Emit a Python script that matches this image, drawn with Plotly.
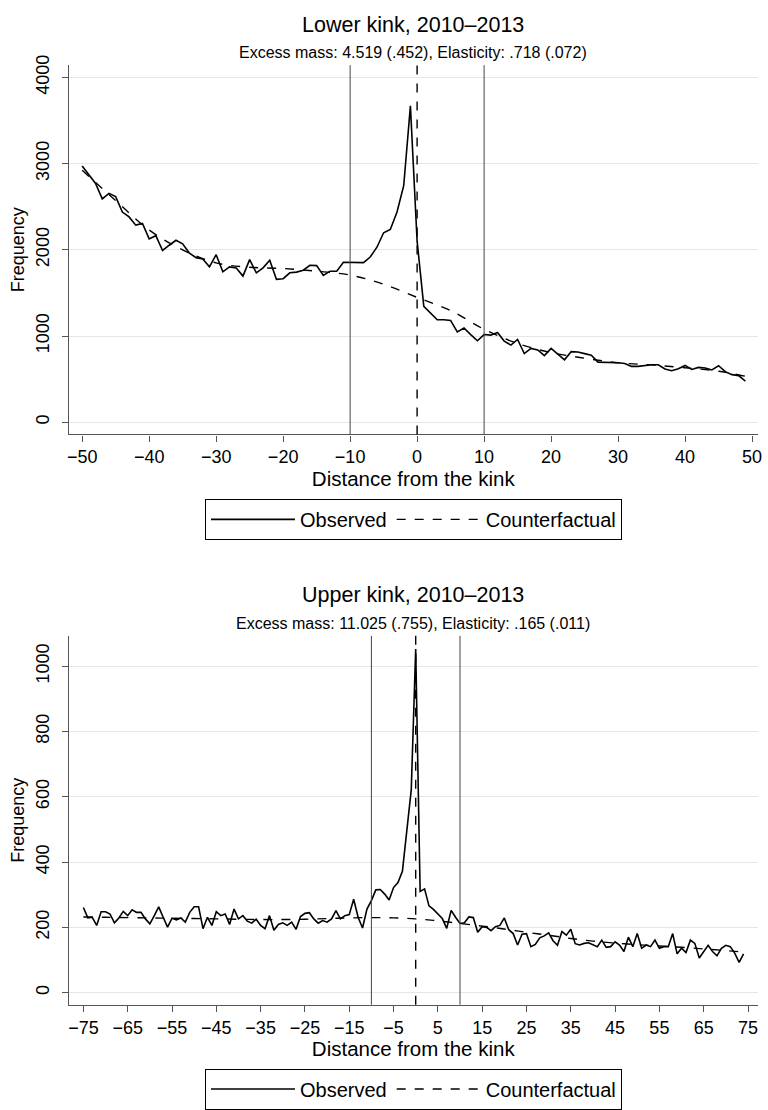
import plotly.graph_objects as go

# ---- Lower kink (2010-2013): bins -50..49 ----
lower_x = list(range(-50, 50))
lower_obs = [2971, 2876, 2770, 2590, 2655, 2617, 2438, 2381, 2286, 2305,
             2126, 2164, 1992, 2053, 2110, 2069, 1962, 1909, 1893, 1802,
             1943, 1745, 1802, 1790, 1695, 1886, 1733, 1790, 1878, 1657,
             1665, 1733, 1741, 1764, 1821, 1817, 1703, 1752, 1752, 1855,
             1855, 1848, 1851, 1916, 2030, 2198, 2236, 2438, 2743, 3669,
             2100, 1345, 1269, 1189, 1189, 1181, 1048, 1093, 1017, 945,
             1017, 1010, 1040, 941, 895, 960, 796, 857, 838, 773,
             857, 789, 724, 819, 815, 796, 777, 697, 697, 697,
             690, 682, 648, 648, 659, 667, 667, 617, 598, 621,
             659, 613, 636, 629, 606, 655, 587, 552, 541, 476]
lower_cf_x = [-50, -45, -40, -35, -30, -25, -20, -15, -10, -5, 0,
              5, 10, 15, 20, 25, 30, 35, 40, 45, 49]
lower_cf = [2922, 2571, 2229, 2000, 1848, 1798, 1783, 1752, 1707, 1600, 1448,
            1295, 1078, 914, 808, 743, 690, 665, 632, 592, 533]
lower_xticks = [-50, -40, -30, -20, -10, 0, 10, 20, 30, 40, 50]
lower_yticks = [0, 1000, 2000, 3000, 4000]

# ---- Upper kink (2010-2013): bins -75..74 ----
upper_x = list(range(-75, 75))
upper_obs = [261, 229, 231, 206, 248, 248, 241, 214, 229, 249,
             236, 254, 246, 246, 226, 211, 236, 263, 231, 201,
             228, 223, 229, 216, 246, 263, 263, 196, 231, 206,
             248, 236, 241, 209, 256, 226, 236, 219, 213, 225,
             206, 196, 236, 191, 209, 214, 206, 216, 194, 233,
             243, 245, 226, 213, 221, 216, 226, 251, 226, 236,
             239, 286, 231, 198, 256,
             282, 315, 316, 302, 284, 322, 337, 372, 490, 622,
             1053,
             310, 318, 266, 255, 242, 227, 197, 252, 231, 212,
             214, 232, 230, 185, 202, 200, 190, 202, 206, 229,
             193, 181, 146, 179, 181, 141, 148, 168, 174, 183,
             159, 145, 187, 176, 194, 150, 146, 151, 153, 146,
             141, 161, 139, 141, 156, 146, 126, 170, 141, 181,
             136, 146, 141, 161, 136, 141, 141, 181, 119, 136,
             123, 161, 151, 106, 126, 145, 126, 113, 136, 145,
             141, 121, 93, 119]
upper_cf_x = [-75, -70, -65, -60, -55, -50, -45, -40, -35, -30, -25, -20,
              -15, -10, -5, 0, 5, 10, 15, 20, 25, 30, 35, 40, 45, 50,
              55, 60, 65, 70, 74]
upper_cf = [232, 231, 230, 229, 228, 227, 226, 225, 224, 224, 225, 227,
            229, 230, 229, 226, 220, 212, 204, 195, 185, 176, 166, 158, 152, 147,
            143, 139, 134, 129, 124]
upper_xticks = list(range(-75, 76, 10))
upper_yticks = [0, 200, 400, 600, 800, 1000]

bunching_window = [-10, 10]
kink_at = 0

FONT = "Liberation Sans"
W, H = 768, 1110


def py(px):
    # pixel row from the top -> paper fraction
    return 1 - px / H


fig = go.Figure()

fig.add_trace(go.Scatter(x=lower_x, y=lower_obs, mode="lines", name="Observed",
                         line=dict(color="black", width=1.6),
                         xaxis="x", yaxis="y", legend="legend"))
fig.add_trace(go.Scatter(x=lower_cf_x, y=lower_cf, mode="lines", name="Counterfactual",
                         line=dict(color="black", width=1.4, dash="dash", shape="spline"),
                         xaxis="x", yaxis="y", legend="legend"))
fig.add_trace(go.Scatter(x=upper_x, y=upper_obs, mode="lines", name="Observed",
                         line=dict(color="black", width=1.6),
                         xaxis="x2", yaxis="y2", legend="legend2"))
fig.add_trace(go.Scatter(x=upper_cf_x, y=upper_cf, mode="lines", name="Counterfactual",
                         line=dict(color="black", width=1.4, dash="dash", shape="spline"),
                         xaxis="x2", yaxis="y2", legend="legend2"))

# reference lines: bunching window and kink
for xr, yr in [("x", "y"), ("x2", "y2")]:
    for xv in bunching_window:
        fig.add_shape(type="line", xref=xr, yref=yr + " domain", x0=xv, x1=xv, y0=0, y1=1,
                      line=dict(color="#444", width=1))
    fig.add_shape(type="line", xref=xr, yref=yr + " domain", x0=kink_at, x1=kink_at, y0=0, y1=1,
                  line=dict(color="black", width=1.4, dash="dash"))

xdom = [67.3 / W, 761.7 / W]
axis_common = dict(showline=True, linecolor="#555", linewidth=1.3, ticks="outside",
                   ticklen=6, tickcolor="#555", tickwidth=1.2, zeroline=False,
                   tickfont=dict(family=FONT, size=18, color="black"))
xtitle = dict(text="Distance from the kink", font=dict(size=20.5), standoff=2)
ytitle = dict(text="Frequency", font=dict(size=18), standoff=4)
legend_common = dict(orientation="h", x=0.54, xanchor="center", yanchor="top",
                     bordercolor="black", borderwidth=1, font=dict(size=20),
                     itemwidth=84, traceorder="normal")

fig.update_layout(
    width=W, height=H,
    margin=dict(l=0, r=0, t=0, b=0),
    paper_bgcolor="white", plot_bgcolor="white",
    font=dict(family=FONT, color="black"),
    xaxis=dict(domain=xdom, anchor="y", range=[-52, 50.85], tickvals=lower_xticks,
               showgrid=False, title=xtitle, **axis_common),
    yaxis=dict(domain=[py(430.7), py(56)], anchor="x", range=[-142, 4141],
               tickvals=lower_yticks, tickangle=-90, ticklabelstandoff=5,
               showgrid=True, gridcolor="#e6e6e6", gridwidth=1.3,
               title=ytitle, **axis_common),
    xaxis2=dict(domain=xdom, anchor="y2", range=[-78.3, 77.2], tickvals=upper_xticks,
                showgrid=False, title=xtitle, **axis_common),
    yaxis2=dict(domain=[py(1009.3), py(635)], anchor="x2", range=[-37, 1093],
                tickvals=upper_yticks, tickangle=-90, ticklabelstandoff=5,
                showgrid=True, gridcolor="#e6e6e6", gridwidth=1.3,
                title=ytitle, **axis_common),
    legend=dict(y=py(496), **legend_common),
    legend2=dict(y=py(1074), **legend_common),
)

titles = [
    ("Lower kink, 2010–2013", 15, 21.5),
    ("Excess mass: 4.519 (.452), Elasticity: .718 (.072)", 43, 16),
    ("Upper kink, 2010–2013", 594, 21.5),
    ("Excess mass: 11.025 (.755), Elasticity: .165 (.011)", 622, 16),
]
for text, ypx, size in titles:
    fig.add_annotation(text=text, xref="paper", yref="paper",
                       x=(xdom[0] + xdom[1]) / 2, y=py(ypx),
                       xanchor="center", yanchor="middle", showarrow=False,
                       font=dict(family=FONT, size=size, color="black"))

# the page's default body margin would push the fixed-size figure off the window
fig.write_html("out.html", config={"displayModeBar": False},
               post_script="document.body.style.margin = '0px';")
